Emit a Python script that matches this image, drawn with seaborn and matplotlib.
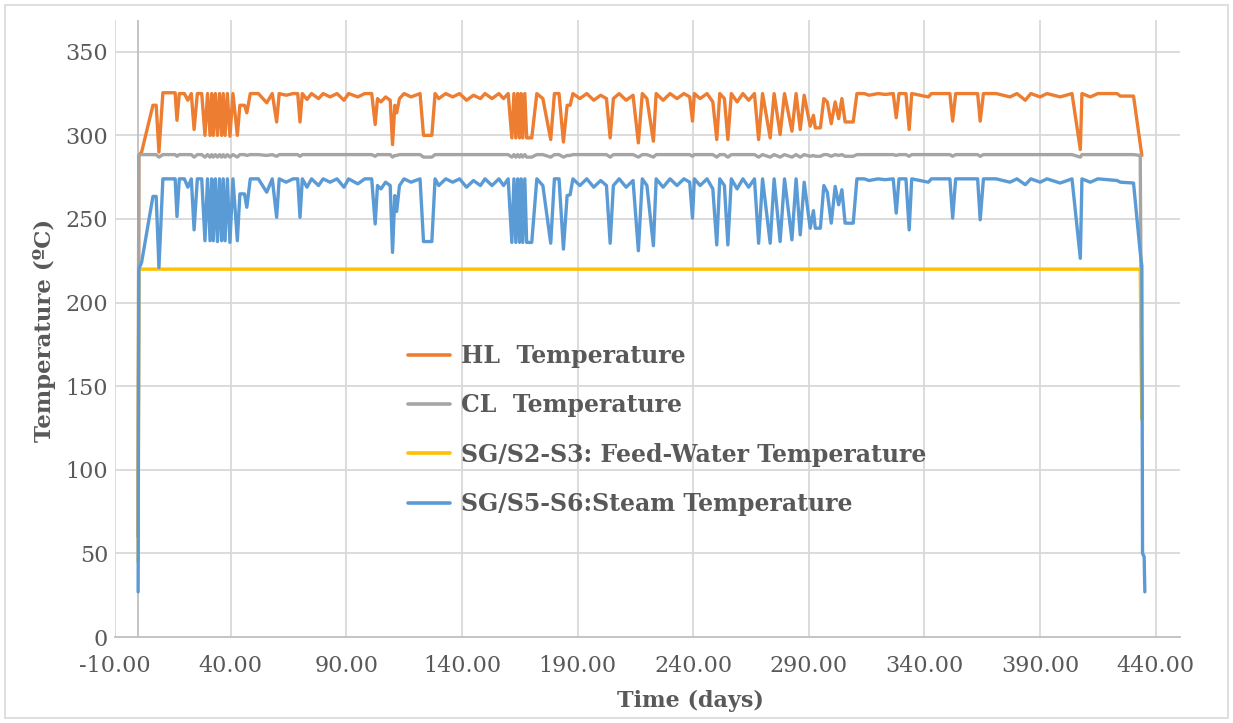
import numpy as np
import pandas as pd
import matplotlib
matplotlib.use("Agg")
import matplotlib.pyplot as plt
from matplotlib.patches import Rectangle
import seaborn as sns

nan = np.nan

days = [0.0, 0.3, 1.5, 6.4, 7.8, 9.0, 10.7, 16.0, 16.8, 17.8,
        20.0, 21.5, 23.0, 24.2, 25.6, 27.5, 28.9, 30.0, 31.1, 31.8,
        32.5, 33.4, 34.3, 35.2, 36.1, 36.8, 37.6, 38.6, 39.7, 41.0,
        42.9, 44.0, 46.0, 47.0, 48.5, 52.0, 55.6, 58.0, 59.9, 61.0,
        64.0, 67.0, 69.0, 70.0, 71.0, 73.0, 75.0, 78.0, 80.0, 83.0,
        86.0, 89.0, 91.0, 95.0, 98.0, 101.0, 102.5, 103.5, 105.0, 107.0,
        109.0, 110.0, 111.0, 111.8, 113.0, 115.0, 118.0, 121.9, 123.4, 127.0,
        128.4, 130.0, 133.0, 136.0, 139.0, 142.0, 145.0, 148.0, 150.0, 153.0,
        156.0, 158.0, 160.0, 161.6, 162.5, 163.3, 164.1, 164.9, 165.6, 166.3,
        167.2, 168.0, 170.2, 172.4, 175.0, 178.4, 180.0, 182.0, 183.9, 185.5,
        186.8, 188.0, 191.0, 194.0, 197.0, 200.0, 202.5, 204.1, 205.5, 208.0,
        211.0, 214.0, 216.3, 218.0, 220.0, 222.8, 224.0, 227.0, 230.0, 233.0,
        236.0, 238.5, 239.7, 240.5, 243.0, 246.0, 248.5, 250.2, 251.5, 253.5,
        255.0, 256.5, 259.0, 261.5, 264.0, 266.5, 268.3, 270.0, 273.3, 275.0,
        277.6, 279.5, 282.7, 284.5, 286.3, 288.0, 290.6, 292.0, 292.8, 295.0,
        296.5, 298.0, 299.7, 301.4, 302.9, 304.3, 305.7, 309.2, 310.8, 314.0,
        316.0, 320.0, 323.0, 326.5, 327.8, 329.0, 332.0, 333.4, 334.5, 341.7,
        343.0, 351.0, 352.2, 353.5, 363.0, 364.1, 365.5, 371.0, 377.0, 380.0,
        383.6, 386.0, 390.0, 393.0, 398.7, 403.8, 407.4, 408.1, 411.7, 415.0,
        423.3, 424.7, 430.4, 433.3, 434.0, 434.3, 435.0, 435.3]

hl_temp = [60, 288, 290, 318, 318, 290, 325.5, 325.5, 309, 325,
           325, 321, 325, 303.5, 325, 325, 300, 325, 300, 325,
           300, 325, 300, 325, 300, 325, 300, 325, 299.5, 325,
           300, 318, 318, 313.5, 325, 325, 319.5, 325, 308, 325,
           324, 325, 325, 308, 325, 321.5, 325, 322, 325, 323,
           325, 321, 325, 323, 325, 325, 306.5, 322, 320, 323,
           321, 294.5, 318, 313.5, 322, 325, 323, 325, 300, 300,
           325, 322, 325, 323, 325, 321, 324, 322, 325, 322,
           325, 322, 325, 298.5, 325, 298.5, 325, 298.5, 325, 298.5,
           325, 298.5, 298.5, 325, 322, 297.5, 325, 325, 296, 318,
           318, 325, 322, 325, 321, 324, 322, 298.5, 322, 325,
           321, 324, 295.5, 325, 322, 296.5, 325, 321, 325, 322,
           325, 323, 308.5, 325, 322, 325, 320, 297.5, 325, 322,
           297.5, 325, 320, 325, 321, 325, 297.5, 325, 298.5, 325,
           300.5, 325, 302.5, 325, 303.5, 324, 305.5, 312, 304.5, 304.5,
           322, 320, 307, 320, 310, 322, 308, 308, 325, 325,
           324, 325, 324.5, 325, 310.5, 325, 325, 303.5, 325, 323,
           325, 325, 308.5, 325, 325, 308.5, 325, 325, 323, 325,
           321, 325, 323, 325, 323, 325, 291.5, 325, 323, 325,
           325, 323.5, 323.5, 295, 288, nan, nan, nan]

cl_temp = [60, 288, 288.5, 288.5, 288.5, 287, 288.5, 288.5, 287.5, 288.5,
           288.5, 288.5, 288.5, 287, 288.5, 288.5, 287, 288.5, 287, 288.5,
           287, 288.5, 287, 288.5, 287, 288.5, 287, 288.5, 287, 288.5,
           287, 288.5, 288.5, 288, 288.5, 288.5, 288, 288.5, 287.5, 288.5,
           288.5, 288.5, 288.5, 287.5, 288.5, 288.5, 288.5, 288.5, 288.5, 288.5,
           288.5, 288.5, 288.5, 288.5, 288.5, 288.5, 287.5, 288.5, 288.5, 288.5,
           288.5, 287, 288, 288, 288.5, 288.5, 288.5, 288.5, 287, 287,
           288.5, 288.5, 288.5, 288.5, 288.5, 288.5, 288.5, 288.5, 288.5, 288.5,
           288.5, 288.5, 288.5, 287, 288.5, 287, 288.5, 287, 288.5, 287,
           288.5, 287, 287, 288.5, 288.5, 287, 288.5, 288.5, 287, 288,
           288, 288.5, 288.5, 288.5, 288.5, 288.5, 288.5, 287, 288.5, 288.5,
           288.5, 288.5, 287, 288.5, 288.5, 287, 288.5, 288.5, 288.5, 288.5,
           288.5, 288.5, 287.5, 288.5, 288.5, 288.5, 288.5, 287, 288.5, 288.5,
           287, 288.5, 288.5, 288.5, 288.5, 288.5, 287, 288.5, 287, 288.5,
           287, 288.5, 287, 288.5, 287, 288.5, 287.5, 288, 287.5, 287.5,
           288.5, 288.5, 287.5, 288.5, 288, 288.5, 287.5, 287.5, 288.5, 288.5,
           288.5, 288.5, 288.5, 288.5, 288, 288.5, 288.5, 287.5, 288.5, 288.5,
           288.5, 288.5, 287.5, 288.5, 288.5, 287.5, 288.5, 288.5, 288.5, 288.5,
           288.5, 288.5, 288.5, 288.5, 288.5, 288.5, 287, 288.5, 288.5, 288.5,
           288.5, 288.5, 288.5, 288, 131, nan, nan, nan]

steam_temp = [27, 220, 224, 263.5, 263.5, 221, 274, 274, 251.5, 274,
              274, 269, 274, 243.5, 274, 274, 237, 274, 237, 274,
              237, 274, 236.5, 274, 237, 274, 237, 274, 236, 274,
              237, 265, 265, 257, 274, 274, 266, 274, 251, 274,
              272, 274, 274, 251, 274, 269, 274, 270, 274, 272,
              274, 269, 274, 271, 274, 274, 247, 270, 268, 272,
              270, 230, 264, 254.5, 270, 274, 272, 274, 236.5, 236.5,
              274, 270, 274, 272, 274, 269, 273, 270, 274, 270,
              274, 270, 274, 236, 274, 236, 274, 236, 274, 236,
              274, 236, 236, 274, 270, 235.5, 274, 274, 232, 264,
              264.5, 274, 270, 274, 269, 273, 270, 235.5, 270, 274,
              269, 273, 231, 274, 270, 234, 274, 269, 274, 270,
              274, 272, 250.5, 274, 270, 274, 268, 234.5, 274, 270,
              234.5, 274, 268, 274, 269, 274, 235.5, 274, 235.5, 274,
              236.5, 274, 237.5, 274, 240.5, 272, 244.5, 255, 244.5, 244.5,
              270, 266, 247.5, 269.5, 258.5, 267.5, 247.5, 247.5, 274, 274,
              273, 274, 273.5, 274, 253.5, 274, 274, 243.5, 274, 272,
              274, 274, 250.5, 274, 274, 249.5, 274, 274, 272, 274,
              270.5, 274, 272, 274, 271.5, 274, 226.5, 274, 272, 274,
              273, 272, 271.5, 230, 222, 50, 48, 27]

feed_days = [0.0, 0.3, 433.3, 434.0]
feed_temp = [45, 220, 220, 130]

labels = ["HL  Temperature", "CL  Temperature",
          "SG/S2-S3: Feed-Water Temperature", "SG/S5-S6:Steam Temperature"]
colors = ["#ED7D31", "#A5A5A5", "#FFC000", "#5B9BD5"]

x_ticks = [-10, 40, 90, 140, 190, 240, 290, 340, 390, 440]
y_ticks = [0, 50, 100, 150, 200, 250, 300, 350]

assert len(days) == len(hl_temp) == len(cl_temp) == len(steam_temp)

sns.set_theme(style="white")
plt.rcParams["font.family"] = ["DejaVu Serif"]

W, H = 1233, 723
fig = plt.figure(figsize=(W / 100, H / 100), dpi=100)
ax = fig.add_axes([115 / W, 1 - 637 / H, (1180 - 115) / W, (637 - 20) / H])

grid_c = "#D9D9D9"
for xv in x_ticks:
    ax.axvline(xv, color=grid_c, lw=1.3, zorder=0)
for yv in y_ticks[1:]:
    ax.axhline(yv, color=grid_c, lw=1.3, zorder=0)
ax.axvline(0, color="#BFBFBF", lw=1.3, zorder=0.5)

lw = 2.4
sns.lineplot(x=days, y=hl_temp, ax=ax, color=colors[0], lw=lw, sort=False,
             estimator=None, label=labels[0])
sns.lineplot(x=days, y=cl_temp, ax=ax, color=colors[1], lw=lw, sort=False,
             estimator=None, label=labels[1])
sns.lineplot(x=feed_days, y=feed_temp, ax=ax, color=colors[2], lw=lw, sort=False,
             estimator=None, label=labels[2])
sns.lineplot(x=days, y=steam_temp, ax=ax, color=colors[3], lw=lw, sort=False,
             estimator=None, label=labels[3])

ax.set_xlim(-10, 450.5)
ax.set_ylim(0, 369)
ax.set_xticks(x_ticks)
ax.set_xticklabels([f"{v:.2f}" for v in x_ticks])
ax.set_yticks(y_ticks)
ax.set_yticklabels([str(v) for v in y_ticks])
ax.tick_params(axis="both", length=0, labelsize=16, colors="#595959")
ax.tick_params(axis="y", pad=5)
ax.tick_params(axis="x", pad=13)

for s in ["top", "right", "left"]:
    ax.spines[s].set_visible(False)
ax.spines["bottom"].set_color("#BFBFBF")
ax.spines["bottom"].set_linewidth(1.3)

ax.set_xlabel("Time (days)", fontsize=16, fontweight="bold", color="#595959")
ax.set_ylabel("Temperature (ºC)", fontsize=16.5, fontweight="bold", color="#595959")
ax.xaxis.set_label_coords((690 - 115) / (1180 - 115), (637 - 690) / (637 - 20))
ax.yaxis.set_label_coords((56 - 115) / (1180 - 115), (637 - 330) / (637 - 20))

leg = ax.legend(loc="upper left", bbox_to_anchor=(408 / W, 1 - 344 / H),
                bbox_transform=fig.transFigure, frameon=False, fontsize=17,
                handlelength=1.78, handletextpad=0.47, labelspacing=1.07,
                borderpad=0, borderaxespad=0)
for t in leg.get_texts():
    t.set_color("#595959")
    t.set_fontweight("bold")
for h in leg.get_lines():
    h.set_linewidth(2.6)

fig.patches.append(Rectangle((5 / W, 5 / H), 1 - 10 / W, 1 - 10 / H, fill=False,
                             edgecolor="#D9D9D9", lw=1.2, transform=fig.transFigure))

fig.savefig("out.png", dpi=100, facecolor="white")
